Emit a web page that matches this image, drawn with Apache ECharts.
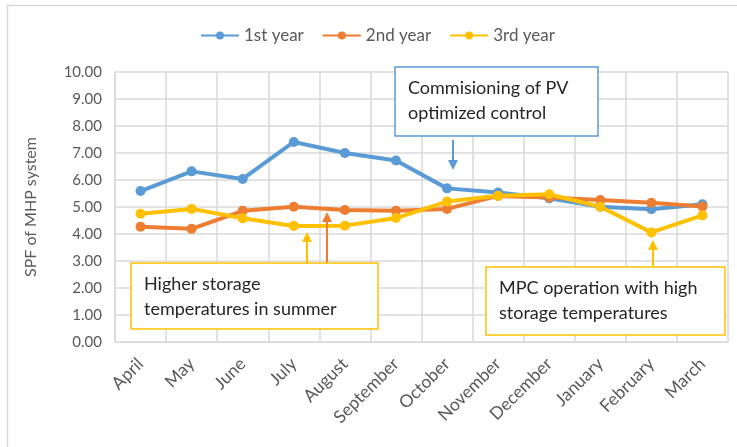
<!DOCTYPE html>
<html>
<head>
<meta charset="utf-8">
<script src="https://cdn.jsdelivr.net/npm/echarts@6/dist/echarts.min.js"></script>
<style>
  html, body { margin: 0; padding: 0; background: #fff; }
  #chart { width: 737px; height: 447px; }
</style>
</head>
<body>
<div id="chart"></div>
<script>
const months = ['April', 'May', 'June', 'July', 'August', 'September', 'October',
  'November', 'December', 'January', 'February', 'March'];
const year1 = [5.59, 6.32, 6.04, 7.41, 7.0, 6.72, 5.69, 5.54, 5.32, 5.01, 4.92, 5.1];
const year2 = [4.27, 4.19, 4.86, 5.01, 4.89, 4.86, 4.93, 5.41, 5.35, 5.26, 5.16, 5.02];
const year3 = [4.75, 4.93, 4.58, 4.3, 4.31, 4.59, 5.2, 5.42, 5.47, 5.01, 4.06, 4.69];
const seriesNames = ['1st year', '2nd year', '3rd year'];
const colors = ['#5B9BD5', '#ED7D31', '#FFC000'];

const font = 'Lato, "Open Sans", sans-serif';
const chart = echarts.init(document.getElementById('chart'));

function mkSeries(name, data, color) {
  return {
    name: name,
    type: 'line',
    data: data,
    symbol: 'circle',
    symbolSize: 10,
    lineStyle: { width: 4, color: color },
    itemStyle: { color: color },
    emphasis: { disabled: true },
    z: 5
  }
}

// annotation box (text with border)
function box(x, y, w, h, border, text) {
  return {
    type: 'group',
    children: [
      {
        type: 'rect',
        shape: { x: x, y: y, width: w, height: h },
        style: { fill: '#fff', stroke: border, lineWidth: 1.5 },
        z: 20
      },
      {
        type: 'text',
        x: x + 13, y: y + 9,
        style: { text: text, fill: '#262626', font: '18px ' + font, lineHeight: 25 },
        z: 21
      }
    ]
  }
}

// vertical arrow, tip at y2
function arrow(x, y1, y2, color) {
  const dir = y2 < y1 ? 1 : -1;
  return {
    type: 'group',
    children: [
      {
        type: 'line',
        shape: { x1: x, y1: y1, x2: x, y2: y2 + dir * 8 },
        style: { stroke: color, lineWidth: 2 },
        z: 19
      },
      {
        type: 'polygon',
        shape: { points: [[x, y2], [x - 5, y2 + dir * 10], [x + 5, y2 + dir * 10]] },
        style: { fill: color },
        z: 19
      }
    ]
  }
}

chart.setOption({
  animation: false,
  textStyle: { fontFamily: font },
  color: colors,
  legend: {
    data: seriesNames,
    top: 22,
    left: 195,
    itemWidth: 38,
    itemHeight: 10,
    itemGap: 18,
    textStyle: { fontSize: 17, color: '#595959', fontFamily: font }
  },
  grid: {
    left: 115,
    right: 9,
    top: 72,
    bottom: 105
  },
  xAxis: {
    type: 'category',
    data: months,
    boundaryGap: true,
    axisLine: { lineStyle: { color: '#d9d9d9', width: 1 } },
    axisTick: { show: false },
    splitLine: { show: true, lineStyle: { color: '#d9d9d9', width: 1.5 } },
    axisLabel: {
      rotate: 45,
      interval: 0,
      margin: 19,
      fontSize: 17.5,
      color: '#595959'
    }
  },
  yAxis: {
    type: 'value',
    min: 0,
    max: 10,
    interval: 1,
    name: 'SPF of MHP system',
    nameLocation: 'middle',
    nameGap: 76,
    nameTextStyle: { fontSize: 16, color: '#595959' },
    axisLine: { show: true, lineStyle: { color: '#d9d9d9', width: 1.5 } },
    axisTick: { show: false },
    splitLine: { lineStyle: { color: '#d9d9d9', width: 1.5 } },
    axisLabel: {
      margin: 13,
      fontSize: 15,
      color: '#595959',
      formatter: v => v.toFixed(2)
    }
  },
  series: [
    mkSeries(seriesNames[0], year1, colors[0]),
    mkSeries(seriesNames[1], year2, colors[1]),
    mkSeries(seriesNames[2], year3, colors[2])
  ],
  graphic: [
    {
      type: 'rect',
      shape: { x: 7.5, y: 5.5, width: 740, height: 460 },
      style: { fill: null, stroke: '#d9d9d9', lineWidth: 1.5 },
      silent: true
    },
    box(395, 67, 203, 69, colors[0], 'Commisioning of PV\noptimized control'),
    arrow(453, 140, 170, colors[0]),
    box(131, 263, 247, 66, colors[2], 'Higher storage\ntemperatures in summer'),
    arrow(307, 263, 232, colors[2]),
    arrow(327, 263, 212, colors[1]),
    box(486, 267, 239, 68, colors[2], 'MPC operation with high\nstorage temperatures'),
    arrow(653, 267, 240, colors[2])
  ]
});
</script>
</body>
</html>
